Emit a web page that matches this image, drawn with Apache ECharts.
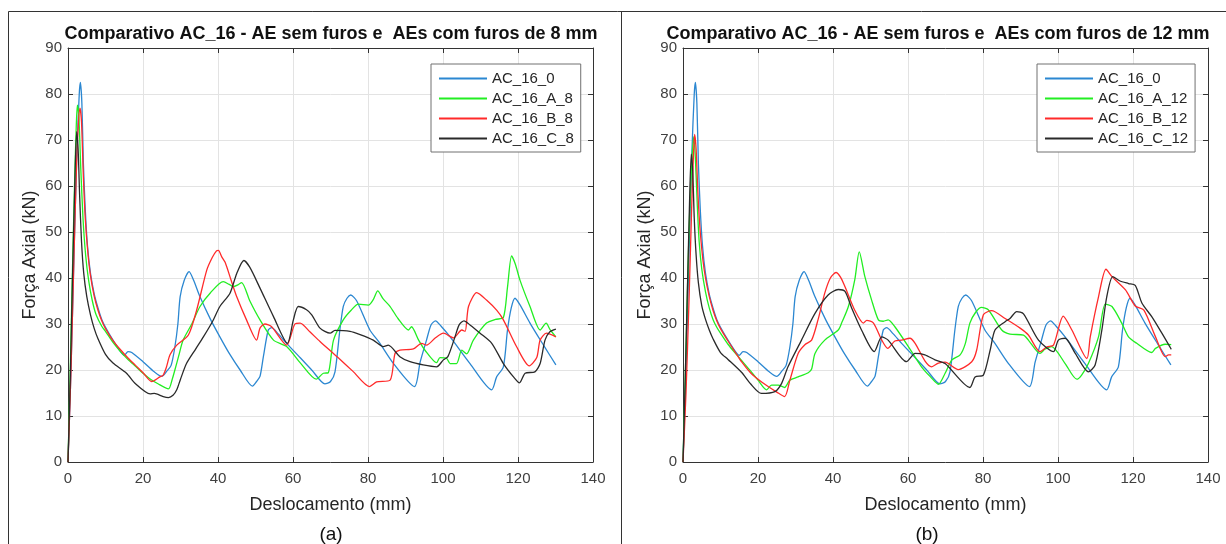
<!DOCTYPE html>
<html>
<head>
<meta charset="utf-8">
<script src="https://cdn.jsdelivr.net/npm/echarts@6/dist/echarts.min.js"></script>
<style>
html,body{margin:0;padding:0;background:#fff;}
#chart{width:1226px;height:544px;}
</style>
</head>
<body>
<div id="chart"></div>
<script>
// ---------- DATA ----------
const titleA = 'Comparativo AC_16 - AE sem furos e  AEs com furos de 8 mm';
const titleB = 'Comparativo AC_16 - AE sem furos e  AEs com furos de 12 mm';
const xName = 'Deslocamento (mm)';
const yName = 'Força Axial (kN)';
const namesA = ['AC_16_0', 'AC_16_A_8', 'AC_16_B_8', 'AC_16_C_8'];
const namesB = ['AC_16_0', 'AC_16_A_12', 'AC_16_B_12', 'AC_16_C_12'];

// [deslocamento (mm), força (kN)]
const ac16_0 = [[0,0],[0.8,20],[1.6,45],[2.4,68],[3.0,80],[3.3,82.5],[3.7,78],[4.1,65],[4.6,55],[5.2,47],[6,41],[7,36.5],[8,33.5],[9,31],[10,29.3],[12,26.5],[14,24],[15,23.2],[16,24],[17,23.8],[20,21.8],[23,19.6],[25,18.6],[26.4,19.8],[27.5,21],[28.5,25],[29.3,30],[29.9,35.9],[31,39.5],[32.3,41.4],[33.5,39.5],[35.2,35.9],[38,31],[40.5,27.2],[43,23.6],[45.9,20],[49.2,16.5],[50.3,17.5],[51.2,18.6],[52.1,22.9],[53.4,28.7],[54.3,29.2],[56,27.9],[58.3,25.8],[62,22.6],[65,20],[68.5,17],[70,17.5],[71.2,19.6],[72.5,28.7],[73.4,33.8],[74.4,35.6],[75.4,36.3],[77,35],[80.5,28.7],[83,26],[86.8,21.4],[92.4,16.4],[93.9,21.7],[95.6,26.5],[96.8,29.8],[98,30.7],[99.5,29.5],[101.9,27.2],[107.2,21.4],[113,15.7],[114.3,18.5],[116.1,20.7],[117.2,28.7],[118.2,33.5],[119.2,35.6],[120.5,34.2],[123.2,30.2],[126.8,25.4],[130.1,21.1]];

const ac16_A_8 = [[0,0],[0.6,20],[1.2,42],[1.8,62],[2.2,73],[2.5,77.6],[2.9,75],[3.4,64],[4,53],[4.7,45],[5.5,39.5],[6.5,35],[7.5,32],[9,29.5],[10,28.4],[12,26],[14,24],[16,22.3],[18,20.8],[20,19.3],[22,18],[24,17],[26.8,15.9],[27.8,18],[28.5,20],[29.5,23],[30.7,26.5],[33,30],[35.2,33.8],[38,36.8],[41.4,39.2],[43,38.6],[44.1,38.1],[45.3,38.5],[46.3,39],[48.5,35],[51.2,30.9],[54.8,26.5],[58.3,25.1],[62,21.5],[66.2,18],[68.1,19.3],[69.4,19.4],[70.8,26.5],[73.4,30.9],[75.5,33],[77.4,34.3],[80.1,34.1],[81.4,35.3],[82.6,37.2],[84,35.5],[85.9,33.8],[88,31.2],[90.8,28.7],[91.6,29.4],[93.5,26.5],[95.2,24.3],[98.3,21.6],[99.2,22.7],[101,22.5],[101.9,21.4],[103.6,21.4],[105,24.3],[106.3,23.5],[108.1,26.5],[111.6,30.2],[114,31],[116.1,31.4],[117.2,38],[118.3,44.8],[119.3,43],[120.5,39.6],[123.2,33.8],[125.9,28.7],[127.5,30.2],[128.6,28.7],[130.1,27.2]];

const ac16_B_8 = [[0,0],[0.8,20],[1.6,45],[2.3,65],[2.8,74],[3.2,76.9],[3.6,74],[4.1,62],[4.6,53],[5.3,45.5],[6,40.5],[7,36],[8,33],[9,30.7],[10,29],[12,26.4],[14,24.4],[16,22.6],[18,21],[20,19.4],[22.3,17.5],[24.5,18.5],[25.4,18.9],[26.2,20.5],[27.2,23.3],[29,25.4],[32.1,27.6],[34.3,33],[37,41.7],[38.5,44.5],[39.6,45.9],[40.1,46],[41,44.6],[41.9,43.4],[43.5,39.5],[45,35.9],[47.6,30.9],[50.3,26.5],[51.2,29.1],[52.5,30],[54.3,29.4],[58.3,25.4],[60.5,30],[61.9,30.2],[64.5,28.3],[67.2,26.2],[72,22.7],[76,19.7],[80.4,16.4],[82.3,17.4],[85.9,17.8],[87.2,23.6],[88.5,24.3],[92.1,24.6],[94.3,25.8],[95.6,25.4],[98,27],[100.1,28],[102.8,27],[105,28.7],[105.9,28.4],[106.8,33.8],[109,36.8],[111.6,35.2],[114.3,33],[116.1,30.9],[119.6,25.1],[123,20.9],[125,22.7],[125.9,26.5],[127.6,28],[130.1,27.2]];

const ac16_C_8 = [[0,0],[0.6,18],[1.2,40],[1.8,60],[2.3,71.8],[2.7,68],[3.1,58],[3.6,48],[4.2,41],[5,36],[6,32],[7,29],[8,26.8],[10,23.4],[12,21.5],[15.6,19.3],[18,17],[21.9,14.8],[23,14.9],[25.4,14.2],[26.8,14],[28,14.5],[29,15.7],[30,18],[31.6,21.4],[34,24.5],[36.1,27.2],[38.5,30.5],[40.5,33.8],[43.2,36.7],[45,41],[46.9,43.8],[48.5,42.3],[51.2,37.8],[54.8,31.6],[58.5,25.8],[60.1,30.9],[61.4,33.8],[63.6,33.1],[65,32],[67.2,29.1],[69.9,28],[71.2,28.6],[75.2,28.4],[77.9,27.7],[81.4,26.5],[84.1,25.1],[85.4,25.4],[88.5,22.9],[91.2,21.8],[94.7,21.1],[98.3,20.7],[100.1,22.2],[101.3,22.9],[103.2,27.2],[104.3,29.8],[105.6,30.7],[107.2,29.8],[109.9,28],[113,25.8],[116.1,21.4],[118.8,18.5],[120.4,17.2],[121.9,19.3],[124.5,19.6],[125.9,21.4],[127.2,26.5],[128.5,28.3],[130.1,28.9]];

const ac16_A_12 = [[0,0],[0.6,18],[1.2,38],[1.8,55],[2.4,66],[2.85,70.7],[3.3,66],[3.8,56],[4.3,48],[5,42],[6,37],[7,33.5],[8,31],[9,29.3],[10,28],[12,25.6],[14,23.6],[16,21.7],[18,19.8],[20,17.8],[22.3,15.7],[23.6,16.7],[25.4,16.7],[27.1,16.2],[28.5,17.8],[30.7,18.5],[33.4,19.4],[34.3,20.2],[35.2,23.6],[37.8,26.5],[41.4,28.7],[42.3,30.2],[44.1,33.8],[45.8,39.6],[47,45.7],[48.5,40.3],[50.3,35.2],[52.1,30.9],[53.4,30.6],[54.7,30.9],[56.5,29.4],[60.1,25.1],[63.6,20.7],[66,18.5],[68.1,16.9],[69.9,19.3],[71.7,22.2],[73.9,23.3],[75.3,25.8],[76.5,30.2],[78,32.5],[79.6,33.6],[81.4,33.1],[85,28.7],[87.2,27.8],[90.8,27.6],[92.1,26.5],[95.2,23.6],[96.5,24.5],[98.3,25.1],[101.9,21.4],[105,18],[106.3,18.9],[108.1,21.4],[110.8,27.2],[112.6,34.3],[114.4,33.8],[117,30.2],[118.8,27.2],[121,25.8],[125,23.8],[126,24.7],[128.6,25.6],[130.2,25.5]];

const ac16_B_12 = [[0,0],[0.8,15],[1.6,35],[2.3,55],[2.8,67],[3.1,71.2],[3.5,68],[4,58],[4.6,50],[5.3,44],[6,40],[7,36],[8,33],[9,30.7],[10,29],[12,26.3],[14,23.8],[15.6,21.8],[18,19.4],[20,18],[22.7,16.4],[25,15.2],[27.1,14.2],[28.5,17.8],[30.7,23.6],[32.5,25.5],[34.3,26.5],[36,30.9],[37.8,36.7],[39.3,40],[40.8,41.2],[42,40.2],[43.2,38.1],[45.8,33],[48.1,30.2],[49,30.8],[50.8,30.2],[53,26.5],[54.6,24.7],[56.5,26.3],[58.3,26.5],[60.5,26.9],[61.9,25.8],[64.5,22],[66.3,20.7],[68.1,21.5],[69.9,21.7],[73.4,20.1],[77,21.8],[78.3,24.3],[80.1,32],[82.3,32.9],[85.9,31.2],[89.9,29.1],[92.1,27.6],[95.2,24],[97,25],[98.8,25.4],[101.4,31.7],[103.7,28.7],[107.7,22.5],[108.6,27.2],[110.8,35.9],[112.8,41.9],[114.4,40.3],[118,37.4],[120.6,33.9],[122.9,33],[126,27.2],[128.6,22.9],[129.5,23.3],[130.2,23.3]];

const ac16_C_12 = [[0,0],[0.5,15],[1.1,35],[1.7,55],[2.2,66.9],[2.6,63],[3,53],[3.5,45],[4.1,39],[5,34],[6,31],[7,28.7],[8,26.8],[10,23.8],[12,22.3],[15.6,19.5],[18,17],[20.9,14.9],[24.5,15.3],[26.3,17.1],[28,20.7],[31.6,26.5],[35.2,32.3],[38.7,36.3],[41.4,37.5],[43.2,37.1],[45,33.4],[47.6,28.7],[51,24],[53,27.2],[54.7,26.5],[59.6,21.8],[61.9,23.6],[64.5,23.3],[67.2,22.2],[69.9,21.4],[76.5,16.2],[77.9,18.5],[80.1,18.9],[81.9,24.3],[83.2,28.7],[85.9,30.5],[87.2,31.2],[89,32.7],[90.8,32.2],[94.8,26.5],[98.8,24],[100.1,26.5],[101.9,26.9],[104.6,23.6],[108.1,19.6],[109.9,21.1],[111.7,28.7],[113,35.9],[114.6,40.3],[116.4,39.4],[118.8,38.8],[120.6,38.4],[122.4,34.5],[125,31.6],[127.7,28],[130.2,24.5]];

const xTicks = {min: 0, max: 140, interval: 20};
const yTicks = {min: 0, max: 90, interval: 10};

// ---------- STYLE ----------
const colors = ['#2b87d1', '#22ee22', '#ff2a2a', '#2a2a2a'];
const FONT = '"Liberation Sans", Arial, sans-serif';
const axisCol = '#333333';
const textCol = '#404040';

const chart = echarts.init(document.getElementById('chart'), null, {renderer: 'canvas'});

function mainX(gi) {
  return {
    type: 'value', gridIndex: gi, min: xTicks.min, max: xTicks.max, interval: xTicks.interval,
    name: xName, nameLocation: 'middle', nameGap: 34,
    nameTextStyle: {fontFamily: FONT, fontSize: 18, color: '#262626'},
    axisLine: {show: true, onZero: false, lineStyle: {color: axisCol, width: 1}},
    axisTick: {show: true, inside: true, length: 5, lineStyle: {color: axisCol}},
    axisLabel: {fontFamily: FONT, fontSize: 15, color: textCol, margin: 9},
    splitLine: {show: true, lineStyle: {color: '#e3e3e3', width: 1}}
  };
}
function topX(gi) {
  return {
    type: 'value', gridIndex: gi, position: 'top', min: xTicks.min, max: xTicks.max, interval: xTicks.interval,
    axisLine: {show: true, onZero: false, lineStyle: {color: axisCol, width: 1}},
    axisTick: {show: true, inside: true, length: 5, lineStyle: {color: axisCol}},
    axisLabel: {show: false}, splitLine: {show: false}
  };
}
function mainY(gi) {
  return {
    type: 'value', gridIndex: gi, min: yTicks.min, max: yTicks.max, interval: yTicks.interval,
    name: yName, nameLocation: 'middle', nameGap: 29, nameRotate: 90,
    nameTextStyle: {fontFamily: FONT, fontSize: 18, color: '#262626'},
    axisLine: {show: true, onZero: false, lineStyle: {color: axisCol, width: 1}},
    axisTick: {show: true, inside: true, length: 5, lineStyle: {color: axisCol}},
    axisLabel: {fontFamily: FONT, fontSize: 15, color: textCol, margin: 6},
    splitLine: {show: true, lineStyle: {color: '#e3e3e3', width: 1}}
  };
}
function rightY(gi) {
  return {
    type: 'value', gridIndex: gi, position: 'right', min: yTicks.min, max: yTicks.max, interval: yTicks.interval,
    axisLine: {show: true, onZero: false, lineStyle: {color: axisCol, width: 1}},
    axisTick: {show: true, inside: true, length: 5, lineStyle: {color: axisCol}},
    axisLabel: {show: false}, splitLine: {show: false}
  };
}
function mkSeries(name, data, ci, gi) {
  return {
    type: 'line', name: name, data: data, xAxisIndex: gi * 2, yAxisIndex: gi * 2,
    symbol: 'none', smooth: 0.25, lineStyle: {color: colors[ci], width: 1.3},
    itemStyle: {color: colors[ci]}, emphasis: {disabled: true}, z: 3 + ci
  };
}
function mkLegend(names, left) {
  return {
    data: names, orient: 'vertical', left: left, top: 64,
    icon: 'rect', itemWidth: 48, itemHeight: 2, itemGap: 5, padding: [7, 7, 6, 8],
    borderColor: '#707070', borderWidth: 1, borderRadius: 0, backgroundColor: '#ffffff',
    textStyle: {fontFamily: FONT, fontSize: 15, color: '#262626', lineHeight: 15},
    selectedMode: false
  };
}

const seriesA = [ac16_0, ac16_A_8, ac16_B_8, ac16_C_8];
const seriesB = [ac16_0, ac16_A_12, ac16_B_12, ac16_C_12];

const option = {
  animation: false,
  backgroundColor: '#ffffff',
  grid: [
    {left: 68, top: 48, width: 525, height: 414},
    {left: 683, top: 48, width: 525, height: 414}
  ],
  xAxis: [mainX(0), topX(0), mainX(1), topX(1)],
  yAxis: [mainY(0), rightY(0), mainY(1), rightY(1)],
  legend: [mkLegend(namesA, 431), mkLegend(namesB, 1037)],
  series: [
    ...seriesA.map((d, i) => mkSeries(namesA[i], d, i, 0)),
    ...seriesB.map((d, i) => mkSeries(namesB[i], d, i, 1))
  ],
  graphic: [
    {type: 'line', shape: {x1: 8.5, y1: 11.5, x2: 1226, y2: 11.5}, style: {stroke: '#333', lineWidth: 1}, silent: true},
    {type: 'line', shape: {x1: 8.5, y1: 11.5, x2: 8.5, y2: 544}, style: {stroke: '#333', lineWidth: 1}, silent: true},
    {type: 'line', shape: {x1: 621.5, y1: 11.5, x2: 621.5, y2: 544}, style: {stroke: '#333', lineWidth: 1}, silent: true},
    {type: 'text', x: 331, y: 34, style: {text: titleA, font: 'bold 18px ' + FONT, fill: '#111', textAlign: 'center', textVerticalAlign: 'middle'}, silent: true},
    {type: 'text', x: 938, y: 34, style: {text: titleB, font: 'bold 18px ' + FONT, fill: '#111', textAlign: 'center', textVerticalAlign: 'middle'}, silent: true},
    {type: 'text', x: 331, y: 535, style: {text: '(a)', font: '19px ' + FONT, fill: '#111', textAlign: 'center', textVerticalAlign: 'middle'}, silent: true},
    {type: 'text', x: 927, y: 535, style: {text: '(b)', font: '19px ' + FONT, fill: '#111', textAlign: 'center', textVerticalAlign: 'middle'}, silent: true}
  ]
};
chart.setOption(option);
</script>
</body>
</html>
